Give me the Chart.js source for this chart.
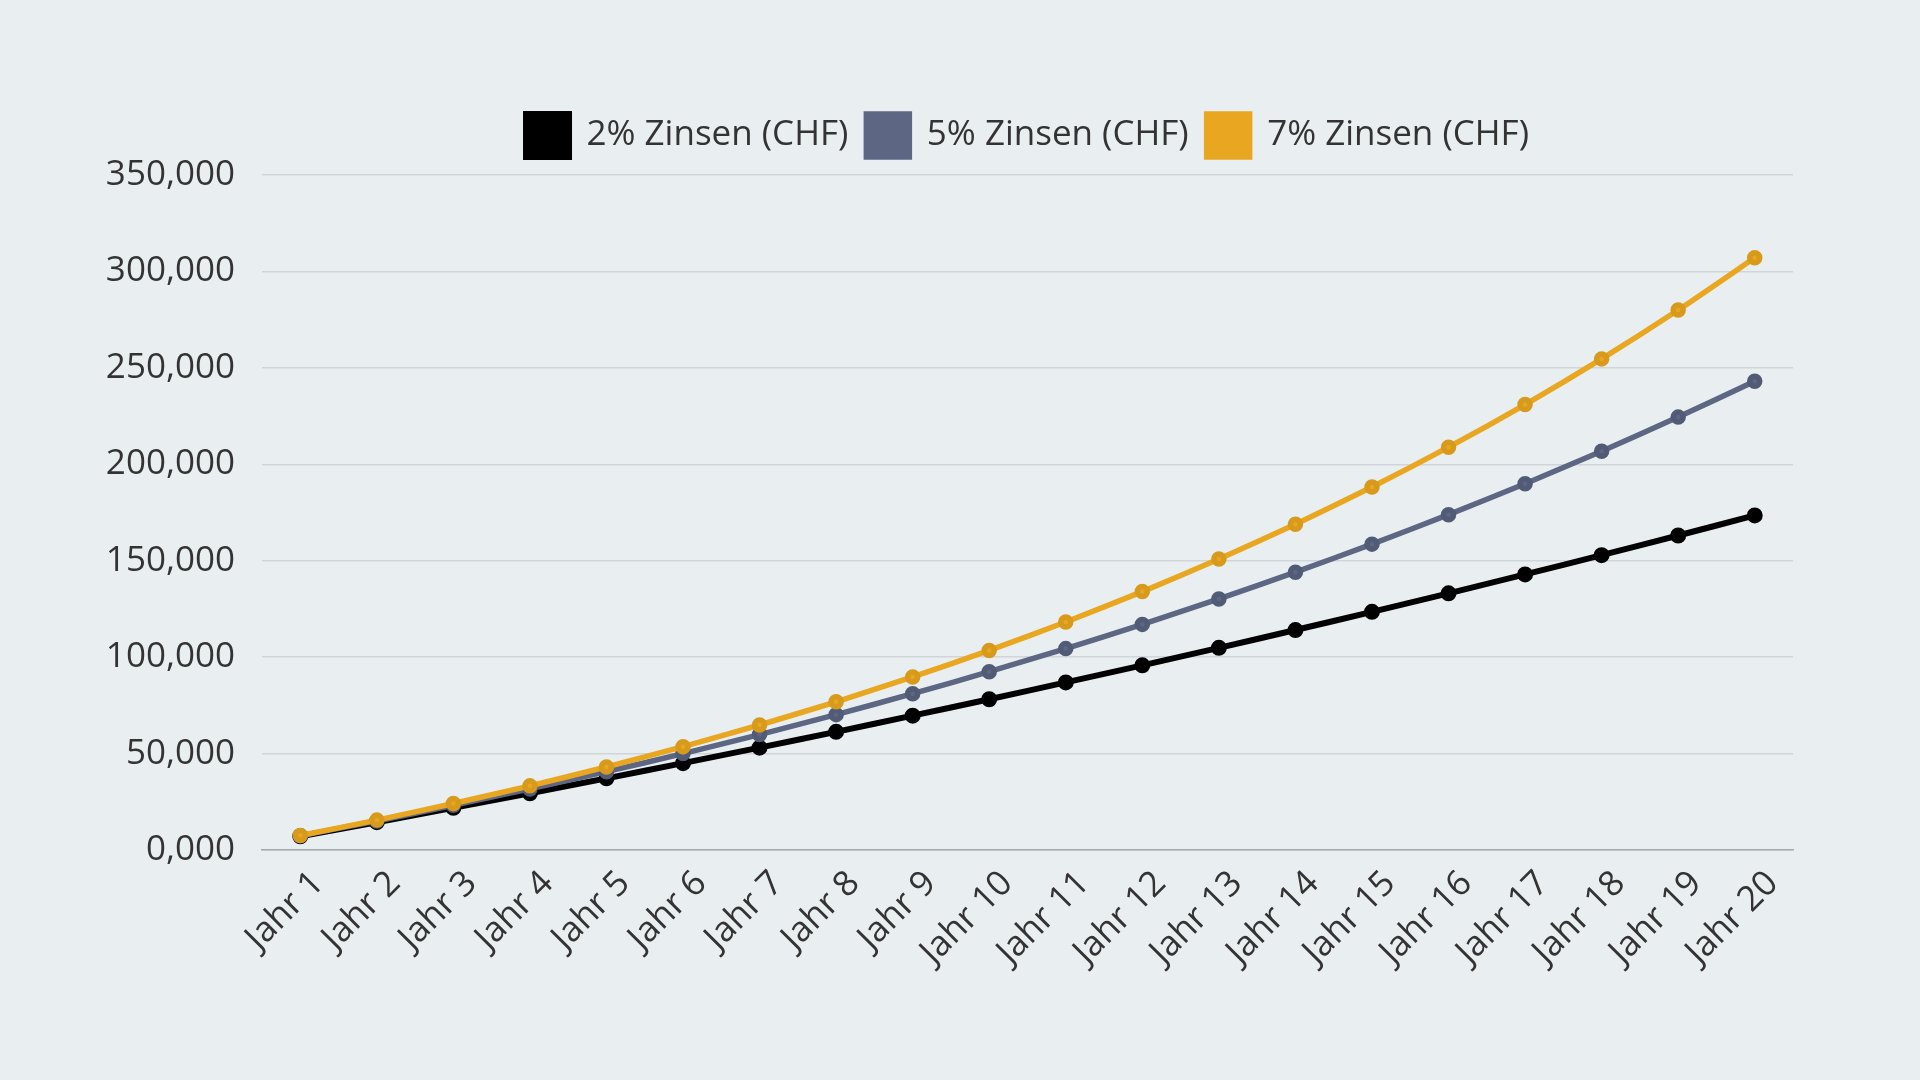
<!DOCTYPE html>
<html>
<head>
<meta charset="utf-8">
<script src="https://cdn.jsdelivr.net/npm/chart.js@4"></script>
<style>
  html, body { margin: 0; padding: 0; background: #e9eef1; }
  #wrap { width: 1920px; height: 1080px; }
</style>
</head>
<body>
<div id="wrap"><canvas id="chart" width="1920" height="1080"></canvas></div>
<script>
const years = ["Jahr 1", "Jahr 2", "Jahr 3", "Jahr 4", "Jahr 5", "Jahr 6", "Jahr 7", "Jahr 8", "Jahr 9", "Jahr 10",
  "Jahr 11", "Jahr 12", "Jahr 13", "Jahr 14", "Jahr 15", "Jahr 16", "Jahr 17", "Jahr 18", "Jahr 19", "Jahr 20"];

// Werte in CHF
const zins2 = [7140, 14420, 21850, 29430, 37160, 45040, 53080, 61280, 69650, 78180,
  86890, 95760, 104820, 114050, 123480, 133090, 142890, 152880, 163080, 173480];
const zins5 = [7350, 15070, 23170, 31680, 40610, 49990, 59840, 70190, 81050, 92450,
  104420, 116990, 130190, 144050, 158600, 173880, 189930, 206770, 224460, 243040];
const zins7 = [7490, 15500, 24080, 33260, 43070, 53580, 64820, 76850, 89720, 103490,
  118220, 133990, 150850, 168900, 188220, 208880, 230990, 254650, 279970, 307060];

const yTicks = [0, 50000, 100000, 150000, 200000, 250000, 300000, 350000];

const font = { family: "'Open Sans', 'Noto Sans', sans-serif", size: 35 };

// etwas mehr Abstand unter der Legende
const legendGap = {
  id: "legendGap",
  afterInit(chart) {
    const lg = chart.legend;
    const fit = lg.fit;
    lg.fit = function () {
      fit.call(this);
      this.height += 8;
    };
  },
};

new Chart(document.getElementById("chart"), {
  type: "line",
  plugins: [legendGap],
  data: {
    labels: years,
    datasets: [
      {
        label: "2% Zinsen (CHF)",
        data: zins2,
        borderColor: "#000000",
        backgroundColor: "#000000",
        pointBorderColor: "#000000",
        borderWidth: 6,
        order: 2,
      },
      {
        label: "5% Zinsen (CHF)",
        data: zins5,
        borderColor: "#5d6784",
        backgroundColor: "#5d6784",
        pointBorderColor: "#525b75",
        borderWidth: 5.5,
        order: 1,
      },
      {
        label: "7% Zinsen (CHF)",
        data: zins7,
        borderColor: "#e9a721",
        backgroundColor: "#e9a721",
        pointBorderColor: "#d79a1c",
        borderWidth: 5.5,
        order: 0,
      },
    ],
  },
  options: {
    responsive: false,
    animation: false,
    devicePixelRatio: 1,
    tension: 0.2,
    layout: { padding: { top: 96, right: 127, bottom: 0, left: 0 } },
    elements: {
      point: { radius: 5, borderWidth: 1 },
    },
    plugins: {
      tooltip: { enabled: false },
      legend: {
        position: "top",
        fullSize: false,
        labels: {
          color: "#333333",
          font: font,
          boxWidth: 43,
          boxHeight: 43,
          padding: 18,
          sort: (a, b) => a.datasetIndex - b.datasetIndex,
        },
      },
    },
    scales: {
      x: {
        offset: true,
        grid: { display: false, drawTicks: false },
        border: { display: true, color: "#a6a9ab", width: 1.5 },
        ticks: {
          color: "#333333",
          font: font,
          maxRotation: 45,
          minRotation: 45,
          padding: 13,
          labelOffset: 18,
          autoSkip: false,
        },
        afterFit: (scale) => { scale.height = 230; },
      },
      y: {
        min: 0,
        max: 350000,
        grid: { color: "#d0d5d9", lineWidth: 1.5, drawTicks: false },
        border: { display: false },
        afterBuildTicks: (scale) => { scale.ticks = yTicks.map((v) => ({ value: v })); },
        ticks: {
          color: "#333333",
          font: font,
          padding: 27,
          callback: (v) => (v / 1000).toFixed(3).replace(".", ","),
        },
        afterFit: (scale) => { scale.width = 262; },
      },
    },
  },
});
</script>
</body>
</html>
